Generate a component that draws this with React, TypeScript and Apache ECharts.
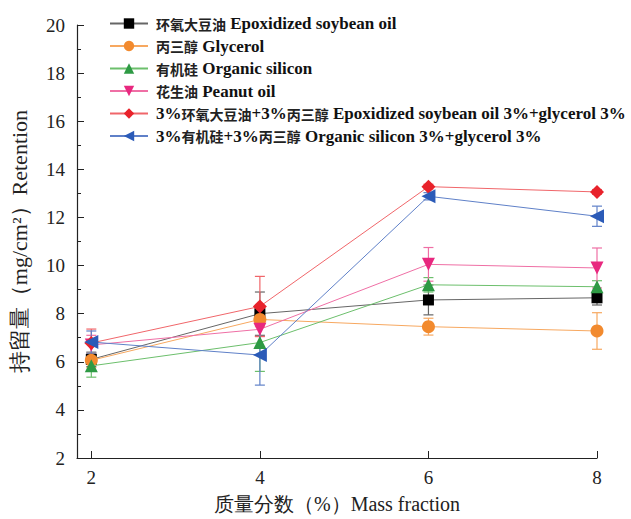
import React, { useEffect, useRef } from "react";
import * as echarts from "echarts";

const xValues = [2, 4, 6, 8];
const seriesNames = [
  "环氧大豆油 Epoxidized soybean oil",
  "丙三醇 Glycerol",
  "有机硅 Organic silicon",
  "花生油 Peanut oil",
  "3%环氧大豆油+3%丙三醇 Epoxidized soybean oil 3%+glycerol 3%",
  "3%有机硅+3%丙三醇 Organic silicon 3%+glycerol 3%",
];
const epoxidized = [6.1, 8.0, 8.57, 8.66];
const glycerol = [6.06, 7.76, 7.46, 7.28];
const silicon = [5.83, 6.8, 9.2, 9.12];
const peanut = [6.7, 7.35, 10.05, 9.9];
const epoxGly = [6.78, 8.3, 13.28, 13.06];
const silGly = [6.82, 6.28, 12.88, 12.05];
const epoxidizedErr = [0.3, 0.9, 0.62, 0.3];
const glycerolErr = [0.3, 0.3, 0.35, 0.76];
const siliconErr = [0.47, 1.2, 0.3, 0.25];
const peanutErr = [0.4, 0.3, 0.7, 0.83];
const epoxGlyErr = [0.58, 1.25, 0.1, 0.1];
const silGlyErr = [0.46, 1.25, 0.15, 0.42];

const values = [epoxidized, glycerol, silicon, peanut, epoxGly, silGly];
const errs = [epoxidizedErr, glycerolErr, siliconErr, peanutErr, epoxGlyErr, silGlyErr];
const markerColors = ["#000000", "#f28a2e", "#2e9a44", "#e8287f", "#e8222b", "#2b5bb8"];
const lineColors = ["#666666", "#f7a860", "#6cbf6c", "#ef6fa5", "#f0666a", "#5f80c8"];
const symbols = ["rect", "circle", "triangle", "triangle", "diamond", "triangle"];
const rotations = [0, 0, 0, 180, 0, 90];
const sizes = [11, 13, 13, 13, 14, 14];

const cjk = /[\u3000-\u9fff\uff00-\uffef]/;
function richName(name: string): string {
  let out = "";
  let cur = "";
  let curCjk: boolean | null = null;
  for (const ch of name) {
    const isC = cjk.test(ch);
    if (curCjk !== null && isC !== curCjk) {
      out += `{${curCjk ? "cn" : "en"}|${cur}}`;
      cur = "";
    }
    curCjk = isC;
    cur += ch;
  }
  if (cur) out += `{${curCjk ? "cn" : "en"}|${cur}}`;
  return out;
}

export default function App() {
  const ref = useRef<HTMLDivElement>(null);
  useEffect(() => {
    if (!ref.current) return;
    const chart = echarts.init(ref.current, undefined, { renderer: "svg" });
    const font = "Times New Roman, Liberation Serif, serif";
    const series: any[] = [];
    values.forEach((vals, i) => {
      series.push({
        type: "custom",
        name: seriesNames[i] + "_err",
        data: xValues.map((x, k) => [x, vals[k] - errs[i][k], vals[k] + errs[i][k]]),
        encode: { x: 0, y: [1, 2] },
        z: 1,
        silent: true,
        renderItem: (params: any, api: any) => {
          const x = api.value(0);
          const lo = api.coord([x, api.value(1)]);
          const hi = api.coord([x, api.value(2)]);
          const w = 5;
          const st = { stroke: lineColors[i], lineWidth: 1.2 };
          return {
            type: "group",
            children: [
              { type: "line", shape: { x1: lo[0], y1: lo[1], x2: hi[0], y2: hi[1] }, style: st },
              { type: "line", shape: { x1: lo[0] - w, y1: lo[1], x2: lo[0] + w, y2: lo[1] }, style: st },
              { type: "line", shape: { x1: hi[0] - w, y1: hi[1], x2: hi[0] + w, y2: hi[1] }, style: st },
            ],
          };
        },
      });
      series.push({
        type: "line",
        name: seriesNames[i],
        data: xValues.map((x, k) => [x, vals[k]]),
        symbol: symbols[i],
        symbolSize: sizes[i],
        symbolRotate: rotations[i],
        showAllSymbol: true,
        z: 2 + i,
        lineStyle: { color: lineColors[i], width: 1 },
        itemStyle: { color: markerColors[i], opacity: 1 },
      });
    });
    chart.setOption({
      animation: false,
      grid: { left: 76, right: 34, top: 25, bottom: 60, containLabel: false },
      legend: {
        data: seriesNames,
        orient: "vertical",
        left: 104,
        top: 10,
        itemWidth: 38,
        itemHeight: 13,
        itemGap: 5.5,
        formatter: (name: string) => richName(name),
        textStyle: {
          fontFamily: font,
          fontWeight: "bold",
          fontSize: 16,
          lineHeight: 16,
          color: "#111",
          padding: [0, 0, 0, 3],
          rich: {
            cn: { fontFamily: "Noto Sans CJK SC", fontSize: 14, fontWeight: "bold", color: "#222", lineHeight: 16 },
            en: { fontFamily: font, fontSize: 17, fontWeight: "bold", color: "#111", lineHeight: 16 },
          },
        },
      },
      xAxis: {
        type: "value",
        min: 1.83,
        max: 8,
        name: "质量分数（%）Mass fraction",
        nameLocation: "middle",
        nameGap: 36,
        nameTextStyle: { fontFamily: font, fontSize: 20, color: "#222" },
        axisLine: { lineStyle: { color: "#222", width: 1.2 } },
        axisTick: { inside: true, length: 7, customValues: xValues, lineStyle: { color: "#222" } },
        axisLabel: { customValues: xValues, fontFamily: font, fontSize: 19, color: "#222", margin: 10 },
        splitLine: { show: false },
      },
      yAxis: {
        type: "value",
        min: 2,
        max: 20,
        interval: 2,
        name: "持留量（mg/cm²）Retention",
        nameLocation: "middle",
        nameGap: 47,
        nameTextStyle: { fontFamily: font, fontSize: 22, color: "#222" },
        axisLine: { show: true, lineStyle: { color: "#222", width: 1.2 } },
        axisTick: { inside: true, length: 7, lineStyle: { color: "#222" } },
        minorTick: { show: true, splitNumber: 2, length: 4, lineStyle: { color: "#222" } },
        axisLabel: { fontFamily: font, fontSize: 19, color: "#222", margin: 12 },
        splitLine: { show: false },
      },
      series,
    });
    return () => chart.dispose();
  }, []);
  return <div ref={ref} style={{ position: "fixed", left: 0, top: 0, width: 631, height: 519, background: "#fff" }} />;
}
